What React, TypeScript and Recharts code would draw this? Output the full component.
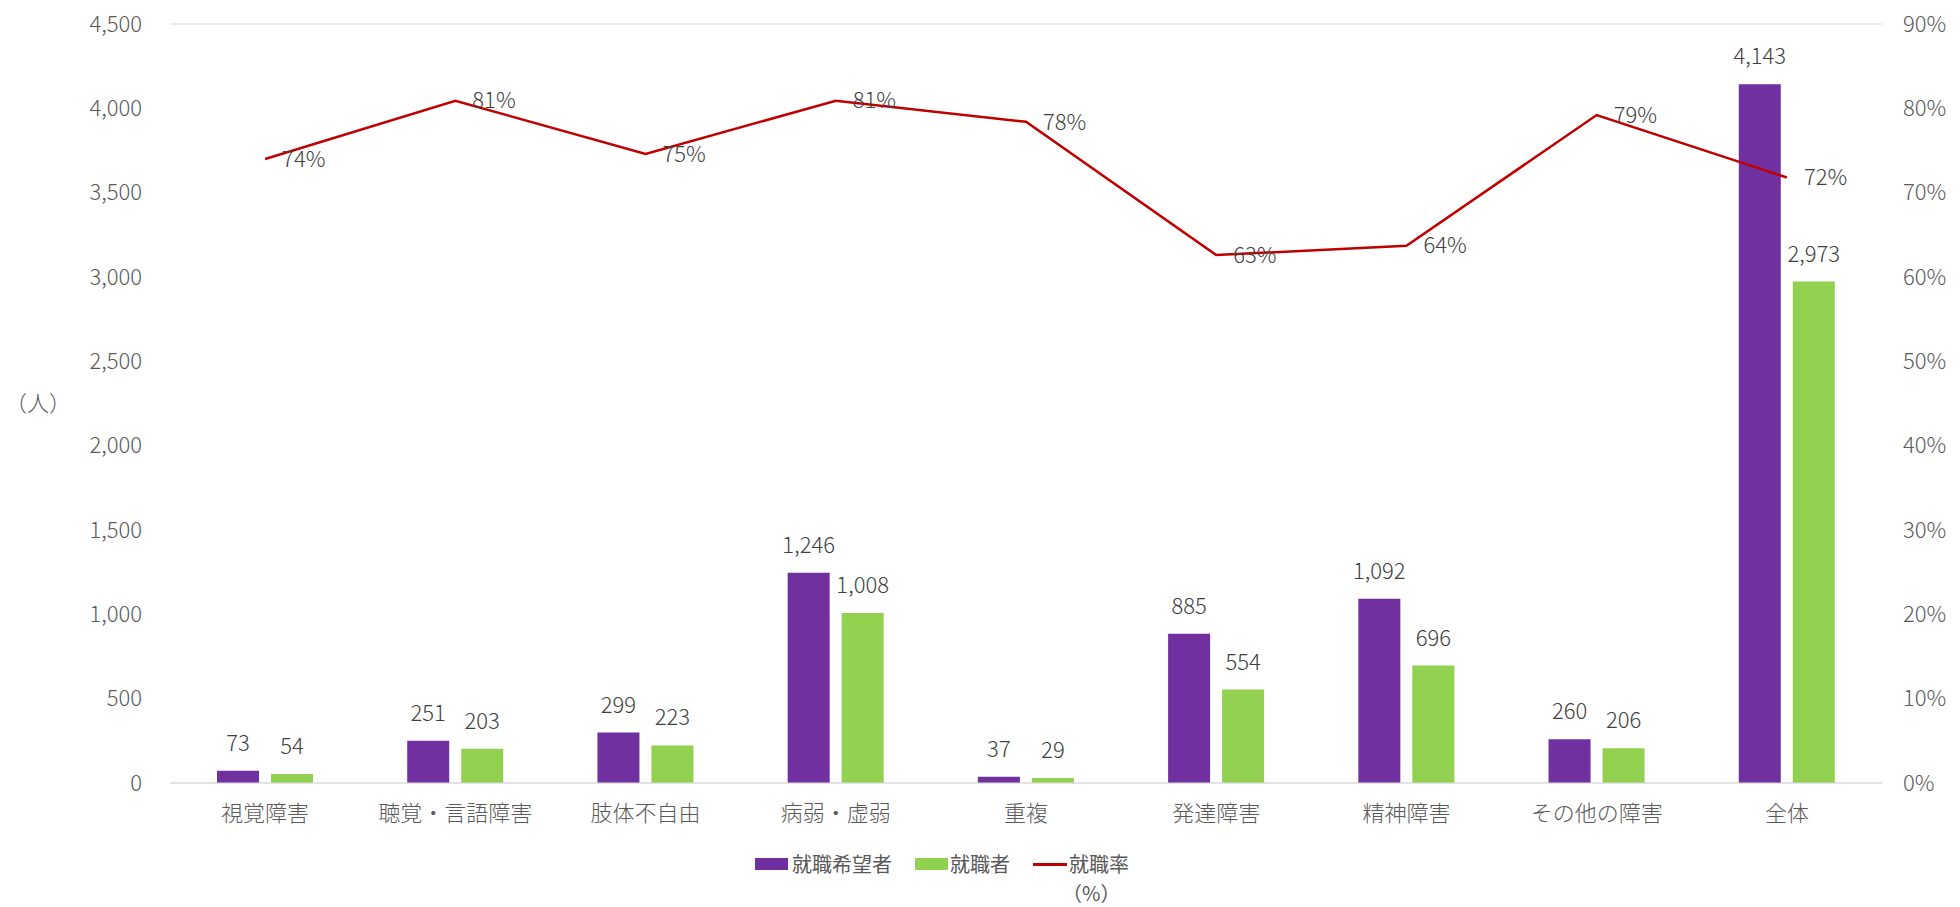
import { ComposedChart, Bar, Line, XAxis, YAxis, CartesianGrid, LabelList } from 'recharts'

const CATEGORIES = ['視覚障害', '聴覚・言語障害', '肢体不自由', '病弱・虚弱', '重複', '発達障害', '精神障害', 'その他の障害', '全体']
const APPLICANTS = [73, 251, 299, 1246, 37, 885, 1092, 260, 4143]
const EMPLOYED = [54, 203, 223, 1008, 29, 554, 696, 206, 2973]
const RATE = [74.0, 80.9, 74.6, 80.9, 78.4, 62.6, 63.7, 79.2, 71.8]
const LEFT_TICKS = [0, 500, 1000, 1500, 2000, 2500, 3000, 3500, 4000, 4500]
const RIGHT_TICKS = [0, 10, 20, 30, 40, 50, 60, 70, 80, 90]

const FONT = "'Noto Sans CJK JP', 'Noto Sans', sans-serif"
const PURPLE = '#7030A0'
const GREEN = '#92D050'
const RED = '#C00000'

const data = CATEGORIES.map((name, i) => ({
  name,
  applicants: APPLICANTS[i],
  employed: EMPLOYED[i],
  rate: RATE[i],
}))

const tickStyle = { fill: '#595959', fontSize: 22, fontFamily: FONT, fontWeight: 300 }

function RateLabel(props: any) {
  const { x, y, value } = props
  return (
    <text x={x + 17} y={y} dy="0.35em" textAnchor="start" fill="#404040" fontSize={22} fontFamily={FONT} fontWeight={300}>
      {Math.round(value)}%
    </text>
  )
}

const legendText = { position: 'absolute' as const, fontSize: 20, fontFamily: FONT, color: '#595959', lineHeight: '24px', top: 852 }

export default function App() {
  return (
    <div style={{ position: 'absolute', left: 0, top: 0, width: 1960, height: 907, background: '#fff', overflow: 'hidden' }}>
      <ComposedChart
        width={1960}
        height={907}
        data={data}
        margin={{ top: 24, right: 0, left: 0, bottom: 64 }}
        barSize={42}
        barGap={12}
      >
        <CartesianGrid vertical={false} stroke="#D9D9D9" strokeWidth={1.2} />
        <XAxis
          dataKey="name"
          tick={tickStyle}
          tickLine={false}
          tickSize={0}
          tickMargin={22}
          axisLine={{ stroke: '#D9D9D9', strokeWidth: 1.2 }}
          height={60}
          interval={0}
        />
        <YAxis
          yAxisId="left"
          domain={[0, 4500]}
          ticks={LEFT_TICKS}
          tick={tickStyle}
          tickFormatter={(v: number) => v.toLocaleString('en-US')}
          axisLine={false}
          tickLine={false}
          tickSize={0}
          tickMargin={28}
          width={170}
          label={{ value: '（人）', position: 'insideLeft', offset: 5, fill: '#595959', fontSize: 22, fontFamily: FONT, fontWeight: 300 }}
        />
        <YAxis
          yAxisId="right"
          orientation="right"
          domain={[0, 90]}
          ticks={RIGHT_TICKS}
          tick={{ ...tickStyle, textAnchor: 'start' }}
          tickFormatter={(v: number) => `${v}%`}
          axisLine={false}
          tickLine={false}
          tickSize={0}
          tickMargin={21}
          width={78}
        />
        <Bar yAxisId="left" dataKey="applicants" fill={PURPLE} isAnimationActive={false}>
          <LabelList
            dataKey="applicants"
            position="top"
            offset={20}
            formatter={(v: any) => Number(v).toLocaleString('en-US')}
            style={{ fill: '#404040', fontSize: 22, fontFamily: FONT, fontWeight: 300 }}
          />
        </Bar>
        <Bar yAxisId="left" dataKey="employed" fill={GREEN} isAnimationActive={false}>
          <LabelList
            dataKey="employed"
            position="top"
            offset={20}
            formatter={(v: any) => Number(v).toLocaleString('en-US')}
            style={{ fill: '#404040', fontSize: 22, fontFamily: FONT, fontWeight: 300 }}
          />
        </Bar>
        <Line
          yAxisId="right"
          type="linear"
          dataKey="rate"
          stroke={RED}
          strokeWidth={2.5}
          dot={false}
          activeDot={false}
          isAnimationActive={false}
        >
          <LabelList dataKey="rate" content={<RateLabel />} />
        </Line>
      </ComposedChart>

      {/* legend */}
      <div style={{ position: 'absolute', left: 755, top: 858, width: 33, height: 12, background: PURPLE }} />
      <div style={{ ...legendText, left: 792 }}>就職希望者</div>
      <div style={{ position: 'absolute', left: 915, top: 858, width: 33, height: 12, background: GREEN }} />
      <div style={{ ...legendText, left: 950 }}>就職者</div>
      <div style={{ position: 'absolute', left: 1033, top: 863, width: 34, height: 3, background: RED }} />
      <div style={{ ...legendText, left: 1069 }}>就職率</div>
      <div style={{ ...legendText, left: 1062, top: 882, lineHeight: '22px' }}>（%）</div>
    </div>
  )
}
